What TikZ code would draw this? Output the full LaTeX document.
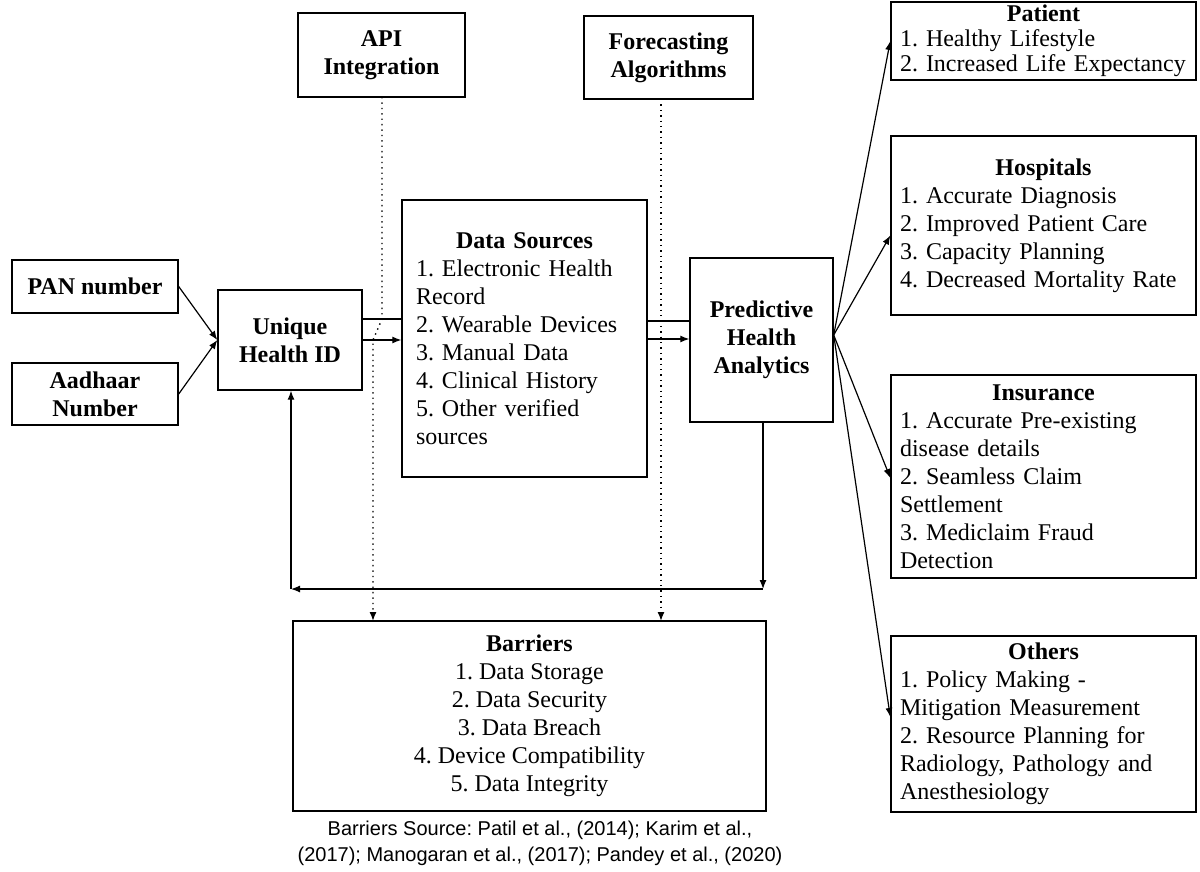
\documentclass[tikz,border=0pt]{standalone}
\usepackage{fontspec}
\setmainfont{Liberation Serif}
\newfontfamily\capfont{Liberation Sans}
\usepackage{tikz}
\usetikzlibrary{positioning}
\usetikzlibrary{arrows.meta}

\newcommand{\boxhead}[1]{\makebox[\hsize]{\textbf{#1}}}

\tikzset{
  box/.style={draw, line width=0.7pt, inner sep=0pt, align=center,
    font=\fontsize{12}{14}\selectfont},
  listbox/.style={box, align=left, inner xsep=4.5pt, text width=143.5pt,
    minimum width=152.5pt},
  conn/.style={-{Latex[length=4.5pt,width=3.5pt]}, line width=0.6pt},
  plainline/.style={line width=0.6pt},
  dotline/.style={-{Latex[length=4.5pt,width=3.5pt]}, line width=0.7pt, dotted}
}

\begin{document}
\frenchspacing
\begin{tikzpicture}[x=0.5pt,y=-0.5pt]
\useasboundingbox (0,0) rectangle (1200,872);
%
\node[box, minimum width=83pt, minimum height=26.5pt] (pan) at (95,286.5) {\textbf{PAN number}};
\node[box, minimum width=83pt, minimum height=31pt] (aadhaar) at (95,394) {\textbf{Aadhaar}\\\textbf{Number}};
\node[box, minimum width=72pt, minimum height=50pt] (uid) at (290,340) {\textbf{Unique}\\\textbf{Health ID}};

\node[box, minimum width=83.5pt, minimum height=42pt] (api) at (381.5,55) {\textbf{API}\\\textbf{Integration}};
\node[box, minimum width=84.5pt, minimum height=41.5pt] (fc) at (668.5,57.5) {\textbf{Forecasting}\\\textbf{Algorithms}};

\node[box, align=left, inner xsep=7pt, text width=108.5pt, minimum width=122.5pt, minimum height=138.5pt] (ds) at (524.5,338.5) {
  \boxhead{Data Sources}\\
  1. Electronic Health\\
  Record\\
  2. Wearable Devices\\
  3. Manual Data\\
  4. Clinical History\\
  5. Other verified\\
  sources
};

\node[box, minimum width=71.5pt, minimum height=82pt] (pha) at (761.5,340) {\textbf{Predictive}\\\textbf{Health}\\\textbf{Analytics}};

\node[box, minimum width=236.5pt, minimum height=95pt] (bar) at (529.5,716) {
  \textbf{Barriers}\\
  1. Data Storage\\
  2. Data Security\\
  3. Data Breach\\
  4. Device Compatibility\\
  5. Data Integrity
};

%
\node[listbox, minimum height=39pt, font=\fontsize{12}{12.5}\selectfont] (patient) at (1043.5,41) {
  \boxhead{Patient}\\
  1. Healthy Lifestyle\\
  2. Increased Life Expectancy
};
\node[listbox, minimum height=89.5pt] (hosp) at (1043.5,225.5) {
  \boxhead{Hospitals}\\
  1. Accurate Diagnosis\\
  2. Improved Patient Care\\
  3. Capacity Planning\\
  4. Decreased Mortality Rate
};
\node[listbox, minimum height=101.5pt] (ins) at (1043.5,476.5) {
  \boxhead{Insurance}\\
  1. Accurate Pre-existing\\
  disease details\\
  2. Seamless Claim\\
  Settlement\\
  3. Mediclaim Fraud\\
  Detection
};
\node[listbox, minimum height=88pt] (oth) at (1043.5,724) {
  \boxhead{Others}\\
  1. Policy Making -\\
  Mitigation Measurement\\
  2. Resource Planning for\\
  Radiology, Pathology and\\
  Anesthesiology
};

%
\node[font=\capfont\fontsize{10}{13}\selectfont, align=center] (src) at (540,843) {
  Barriers Source: Patil et al., (2014); Karim et al.,\\
  (2017); Manogaran et al., (2017); Pandey et al., (2020)
};

%
\draw[conn] (pan.east) -- (uid.west);
\draw[conn] (aadhaar.east) -- (uid.west);

\coordinate (uidA) at ([yshift=10.5pt]uid.east);
\coordinate (uidB) at (uid.east);
\draw[plainline] (uidA) -- (uidA -| ds.west);
\draw[conn] (uidB) -- (uidB -| ds.west);

\coordinate (dsA) at ([yshift=8.75pt]ds.east);
\coordinate (dsB) at ([yshift=-0.25pt]ds.east);
\draw[plainline] (dsA) -- (dsA -| pha.west);
\draw[conn] (dsB) -- (dsB -| pha.west);

%
\coordinate (phaOut) at ([yshift=2.5pt]pha.east);
\draw[conn] (phaOut) -- (patient.west);
\draw[conn] (phaOut) -- ([yshift=-5pt]hosp.west);
\draw[conn] (phaOut) -- ([yshift=-0.75pt]ins.west);
\draw[conn] (phaOut) -- ([yshift=3.5pt]oth.west);

%
\coordinate (fbR) at (763,589);
\coordinate (fbL) at (291,589);
\draw[conn] (pha.south -| fbR) -- (fbR);
\draw[conn] (fbR) -- (fbL);
\draw[conn] (fbL) -- (uid.south -| fbL);

%
\coordinate (apiOut) at (382,97);
\coordinate (apiTurn) at (382,319);
\coordinate (apiBack) at (373,340);
\coordinate (apiIn) at (373,621);
\draw[dotline] (apiOut) -- (apiTurn) -- (apiBack) -- (apiIn);
\coordinate (fcOut) at (661,99);
\coordinate (fcIn) at (661,621);
\draw[dotline] (fcOut) -- (fcIn);

\end{tikzpicture}
\end{document}
